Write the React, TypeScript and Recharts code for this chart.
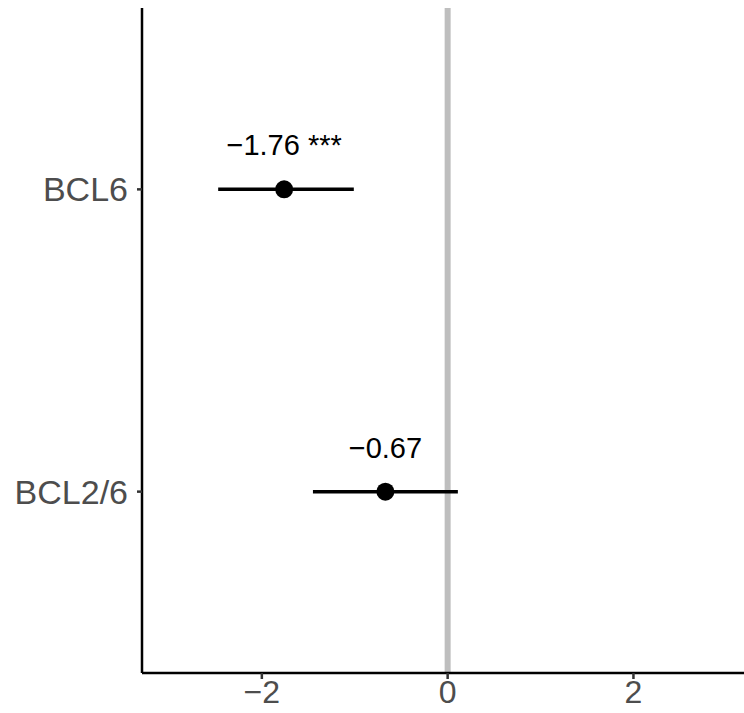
import { ScatterChart, Scatter, XAxis, YAxis, ReferenceLine, ErrorBar } from "recharts";

const genes = ["BCL6", "BCL2/6"];
const estimates = [-1.76, -0.67];
const lower = [-2.47, -1.45];
const upper = [-1.01, 0.11];
const labels = ["\u22121.76 ***", "\u22120.67"];
const xTicks = [-2, 0, 2];

const rows = genes.map((g, i) => ({
  gene: g,
  pos: i + 1,
  est: estimates[i],
  ci: [estimates[i] - lower[i], upper[i] - estimates[i]],
  label: labels[i],
}));

const font = "'Liberation Sans', Arial, Helvetica, sans-serif";

// point with its estimate written above it
const PointShape = (props: any) => {
  const { cx, cy, payload } = props;
  return (
    <g>
      <circle cx={cx} cy={cy} r={9} fill="#000" />
      <text x={cx} y={cy - 34} textAnchor="middle" fontSize={29} fontFamily={font} fill="#000">
        {payload.label}
      </text>
    </g>
  );
};

const fmtX = (v: number) => (v < 0 ? "\u2212" + Math.abs(v) : String(v));

export default function App() {
  return (
    <div style={{ position: "absolute", left: 0, top: 0, background: "#fff" }}>
      <ScatterChart width={744} height={713} margin={{ top: 8, right: 0, bottom: 0, left: 0 }}>
        <XAxis
          type="number"
          dataKey="est"
          domain={[-3.29, 3.19]}
          ticks={xTicks}
          tickFormatter={fmtX}
          height={40}
          tickSize={6}
          tickMargin={1}
          axisLine={{ stroke: "#000", strokeWidth: 2.5 }}
          tickLine={{ stroke: "#333", strokeWidth: 2.5 }}
          tick={{ fill: "#4D4D4D", fontSize: 32, fontFamily: font }}
          allowDataOverflow
        />
        <YAxis
          type="number"
          dataKey="pos"
          domain={[0.4, 2.6]}
          ticks={[1, 2]}
          reversed
          tickFormatter={(v: number) => genes[v - 1]}
          width={142}
          tickSize={5}
          tickMargin={9}
          axisLine={{ stroke: "#000", strokeWidth: 2.5 }}
          tickLine={{ stroke: "#333", strokeWidth: 2.5 }}
          tick={{ fill: "#4D4D4D", fontSize: 34, fontFamily: font }}
          allowDataOverflow
        />
        <ReferenceLine x={0} stroke="#BEBEBE" strokeWidth={6} />
        <Scatter data={rows} shape={PointShape} isAnimationActive={false}>
          <ErrorBar dataKey="ci" direction="x" width={0} stroke="#000" strokeWidth={3.5} />
        </Scatter>
      </ScatterChart>
    </div>
  );
}
